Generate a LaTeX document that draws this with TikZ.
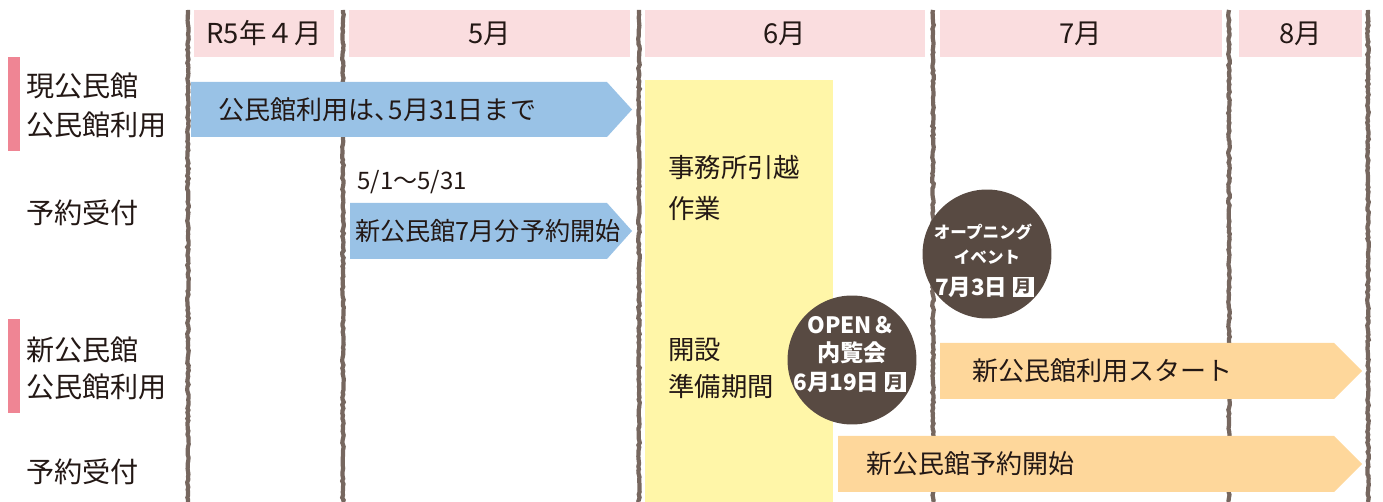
\documentclass[tikz,border=0pt]{standalone}
\usepackage{fontspec}
\setmainfont{Noto Sans CJK JP}
\usepackage{tikz}
\usetikzlibrary{decorations.pathmorphing}

\definecolor{inkdark}{HTML}{231815}
\definecolor{headpink}{HTML}{FADDDF}
\definecolor{barpink}{HTML}{EF8594}
\definecolor{useblue}{HTML}{99C2E6}
\definecolor{workyellow}{HTML}{FFF6A8}
\definecolor{newpeach}{HTML}{FED79B}
\definecolor{circbrown}{HTML}{584A42}
\definecolor{chalkbrown}{HTML}{76675F}

\tikzset{
        monthbox/.style={fill=headpink,text=inkdark,minimum height=0.94cm,inner sep=0pt,font=\fontsize{15.6}{17}\selectfont},
        rowlabel/.style={anchor=west,inner sep=0pt,text=inkdark,font=\fontsize{16}{18}\selectfont},
        bartext/.style={anchor=west,inner sep=0pt,text=inkdark,font=\fontsize{14.8}{16}\selectfont},
        chalk/.style={draw=chalkbrown,line width=2.4pt,decorate,decoration={random steps,segment length=1.5pt,amplitude=0.45pt}},
        event/.style={circle,fill=circbrown,minimum size=2.58cm,inner sep=0pt},
        eventtext/.style={text=white,inner sep=0pt,font=\bfseries\fontsize{12.8}{14}\selectfont},
        daybox/.style={fill=white,text=circbrown,minimum width=0.42cm,minimum height=0.4cm,inner sep=0pt,font=\bfseries\fontsize{9.5}{10}\selectfont}
}

\begin{document}
\begin{tikzpicture}[x=0.02cm,y=-0.02cm]
                \pgfmathsetseed{11}
                \useasboundingbox (0,0) rectangle (1383,502);

                % month borders
                \foreach \xx in {188,343,639,933,1229,1368}
                        \draw[chalk] (\xx,10) -- (\xx,502);

                % month heads
                \node[monthbox,minimum width=2.8cm] (m4) at (264,33.5){R5年４月};
                \node[monthbox,minimum width=5.62cm] (m5) at (489.5,33.5){5月};
                \node[monthbox,minimum width=5.6cm] (m6) at (785,33.5){6月};
                \node[monthbox,minimum width=5.64cm] (m7) at (1081,33.5){7月};
                \node[monthbox,minimum width=2.46cm] (m8) at (1300.5,33.5){8月};

                % row labels
                \fill[barpink] (8,57) rectangle (20,151);
                \fill[barpink] (8,319) rectangle (20,413);
                \node[rowlabel] (cur1) at (26,86){現公民館};
                \node[rowlabel] (cur2) at (26,125){公民館利用};
                \node[rowlabel] (res1) at (26,213){予約受付};
                \node[rowlabel] (new1) at (26,350){新公民館};
                \node[rowlabel] (new2) at (26,387){公民館利用};
                \node[rowlabel] (res2) at (26,472){予約受付};

                % moving period
                \fill[workyellow] (645,80) rectangle (833,502);
                \node[bartext,font=\fontsize{15}{16}\selectfont] (mv1) at (668,168){事務所引越};
                \node[bartext,font=\fontsize{15}{16}\selectfont] (mv2) at (668,208){作業};
                \node[bartext,font=\fontsize{15}{16}\selectfont] (pr1) at (668,350){開設};
                \node[bartext,font=\fontsize{15}{16}\selectfont] (pr2) at (668,386){準備期間};

                % bars
                \fill[useblue] (191,82) -- (607,82) -- (632,109.5) -- (607,137) -- (191,137) -- cycle;
                \fill[useblue] (350,203) -- (607,203) -- (632,231) -- (607,259) -- (350,259) -- cycle;
                \fill[newpeach] (940,343) -- (1334,343) -- (1362,371) -- (1334,399) -- (940,399) -- cycle;
                \fill[newpeach] (838,436) -- (1334,436) -- (1362,464) -- (1334,492) -- (838,492) -- cycle;
                \node[bartext] (use) at (218,109.5){公民館利用は\makebox[0.55em][l]{、}5月31日まで};
                \node[bartext,font=\fontsize{13.7}{15}\selectfont] (span) at (357,182){5/1～5/31};
                \node[bartext,font=\fontsize{14.3}{16}\selectfont] (early) at (355,231){新公民館7月分予約開始};
                \node[bartext] (start) at (972,371){新公民館利用スタート};
                \node[bartext] (book) at (866,464){新公民館予約開始};

                % events
                \node[event] (open) at (852,360){};
                \node[eventtext] (op1) at (851,325){OPEN＆};
                \node[eventtext,font=\bfseries\fontsize{13.2}{14}\selectfont] (op2) at (852,353){内覧会};
                \node[daybox] (mon1) at (895,382.5){月};
                \node[eventtext,anchor=east] (op3) at ([xshift=-2.5pt]mon1.west){6月19日};

                \node[event] (oev) at (987,254){};
                \node[eventtext,font=\bfseries\fontsize{9.4}{10}\selectfont] (ev1) at (983,232){オープニング};
                \node[eventtext,font=\bfseries\fontsize{9.4}{10}\selectfont] (ev2) at (987,257){イベント};
                \node[daybox] (mon2) at (1023,287){月};
                \node[eventtext,anchor=east] (ev3) at ([xshift=-2.5pt]mon2.west){7月3日};
\end{tikzpicture}
\end{document}
